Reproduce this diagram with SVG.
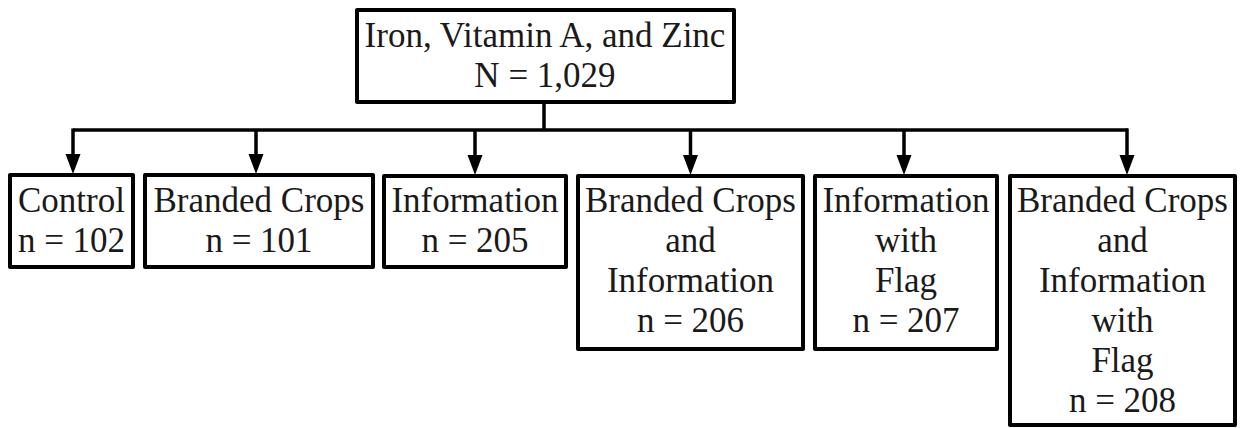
<svg xmlns="http://www.w3.org/2000/svg" width="1241" height="428" viewBox="0 0 1241 428">
<style>
.box{fill:#fff;stroke:#000;stroke-width:4;stroke-linejoin:round}
.t{font-family:"Liberation Serif","Times New Roman",serif;font-size:35px;fill:#1a1a1a;text-anchor:middle}
.c{fill:none;stroke:#000;stroke-width:3.5}
</style>
<defs>
<marker id="ah" markerUnits="userSpaceOnUse" markerWidth="21" markerHeight="16" refX="0" refY="8" orient="auto" viewBox="0 0 21 16">
<path d="M0,0.5 L20,8 L0,15.5 z" fill="#000"/>
</marker>
</defs>
<g id="connectors">
<path class="c" d="M544,102 V130"/>
<path class="c" d="M73,130 H1128"/>
<path class="c" d="M73,128.5 V154" marker-end="url(#ah)"/>
<path class="c" d="M256,130 V154" marker-end="url(#ah)"/>
<path class="c" d="M475,130 V155" marker-end="url(#ah)"/>
<path class="c" d="M690.5,130 V155" marker-end="url(#ah)"/>
<path class="c" d="M904,130 V155" marker-end="url(#ah)"/>
<path class="c" d="M1127,128.5 V155" marker-end="url(#ah)"/>
</g>
<g id="root">
<rect class="box" x="357" y="10" width="377" height="92"/>
<text class="t" x="545" y="47">Iron, Vitamin A, and Zinc</text>
<text class="t" x="545" y="87">N = 1,029</text>
</g>
<g id="control">
<rect class="box" x="10" y="175" width="123" height="92"/>
<text class="t" x="71.5" y="212">Control</text>
<text class="t" x="71.5" y="252">n = 102</text>
</g>
<g id="branded">
<rect class="box" x="145" y="175" width="228" height="92"/>
<text class="t" x="259" y="212">Branded Crops</text>
<text class="t" x="259" y="252">n = 101</text>
</g>
<g id="information">
<rect class="box" x="384" y="176" width="182" height="91"/>
<text class="t" x="475" y="212">Information</text>
<text class="t" x="475" y="252">n = 205</text>
</g>
<g id="branded-info">
<rect class="box" x="578" y="176" width="225" height="173"/>
<text class="t" x="690.5" y="212">Branded Crops</text>
<text class="t" x="690.5" y="252">and</text>
<text class="t" x="690.5" y="292">Information</text>
<text class="t" x="690.5" y="332">n = 206</text>
</g>
<g id="info-flag">
<rect class="box" x="815" y="176" width="182" height="173"/>
<text class="t" x="906" y="212">Information</text>
<text class="t" x="906" y="252">with</text>
<text class="t" x="906" y="292">Flag</text>
<text class="t" x="906" y="332">n = 207</text>
</g>
<g id="branded-info-flag">
<rect class="box" x="1010" y="176" width="225" height="249"/>
<text class="t" x="1122.5" y="212">Branded Crops</text>
<text class="t" x="1122.5" y="252">and</text>
<text class="t" x="1122.5" y="292">Information</text>
<text class="t" x="1122.5" y="332">with</text>
<text class="t" x="1122.5" y="372">Flag</text>
<text class="t" x="1122.5" y="412">n = 208</text>
</g>
</svg>
